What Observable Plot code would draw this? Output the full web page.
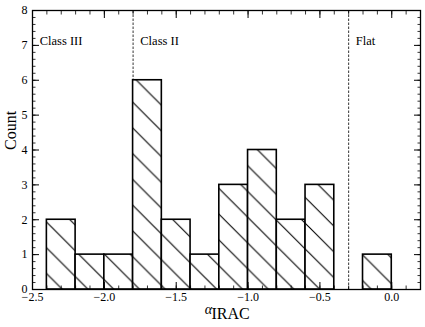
<!DOCTYPE html>
<html>
<head>
<meta charset="utf-8">
<script src="https://cdn.jsdelivr.net/npm/d3@7"></script>
<script src="https://cdn.jsdelivr.net/npm/@observablehq/plot@0.6"></script>
<style>
  html, body { margin: 0; padding: 0; background: #fff; }
</style>
</head>
<body>
<div id="chart"></div>
<script>
// Histogram bins (alpha_IRAC) and counts
const binStart = [-2.4, -2.2, -2.0, -1.8, -1.6, -1.4, -1.2, -1.0, -0.8, -0.6, -0.2];
const binEnd   = [-2.2, -2.0, -1.8, -1.6, -1.4, -1.2, -1.0, -0.8, -0.6, -0.4,  0.0];
const counts   = [2, 1, 1, 6, 2, 1, 3, 4, 2, 3, 1];

// Class boundaries and labels
const boundaries = [-1.8, -0.3];
const classLabels = ["Class III", "Class II", "Flat"];
const classLabelX = [-2.45, -1.75, -0.25];
const classLabelY = [7, 7, 7];

// Axis ticks
const xMajorTicks = [-2.5, -2.0, -1.5, -1.0, -0.5, 0.0];
const xMinorTicks = d3.range(-25, 3).map(i => i / 10);
const yMajorTicks = [0, 1, 2, 3, 4, 5, 6, 7, 8];
const yMinorTicks = d3.range(0, 41).map(i => i / 5);

const bins = binStart.map((s, i) => ({x1: s, x2: binEnd[i], count: counts[i]}));
const labels = classLabels.map((t, i) => ({text: t, x: classLabelX[i], y: classLabelY[i]}));

const fmt = d => (d < 0 ? "\u2212" : "") + Math.abs(d).toFixed(1);

const hatchDefs = () => {
  const defs = d3.create("svg:defs");
  const p = 25.75;
  const pat = defs.append("pattern")
    .attr("id", "hatch")
    .attr("patternUnits", "userSpaceOnUse")
    .attr("x", 0).attr("y", 21)
    .attr("width", p).attr("height", p);
  pat.append("rect").attr("width", p).attr("height", p).attr("fill", "white");
  pat.append("path")
    .attr("d", `M${-p},${-p}L${2*p},${2*p}M${-p},0L${p},${2*p}M0,${-p}L${2*p},${p}`)
    .attr("stroke", "black").attr("stroke-width", 1.1);
  return defs.node();
};

const chart = Plot.plot({
  width: 425,
  height: 327,
  marginLeft: 32,
  marginRight: 5,
  marginTop: 10,
  marginBottom: 38,
  style: {fontFamily: "'Liberation Serif', serif", fontSize: "12px", background: "white", color: "black"},
  x: {domain: [-2.5, 0.2]},
  y: {domain: [0, 8]},
  marks: [
    hatchDefs,
    Plot.ruleX(boundaries, {y1: 0, y2: 8, stroke: "black", strokeWidth: 0.8, strokeDasharray: "2.5,1.5"}),
    Plot.rectY(bins, {x1: "x1", x2: "x2", y: "count", fill: "url(#hatch)", stroke: "black", strokeWidth: 1.6}),
    Plot.text(labels, {x: "x", y: "y", text: "text", textAnchor: "start", lineAnchor: "bottom", fontSize: 12.5}),
    // major/minor ticks, inward, on all sides
    Plot.axisX({anchor: "bottom", ticks: xMajorTicks, tickSize: -7, text: null, label: null, strokeWidth: 1}),
    Plot.axisX({anchor: "bottom", ticks: xMinorTicks, tickSize: -3.5, text: null, label: null, strokeWidth: 0.8}),
    Plot.axisX({anchor: "top", ticks: xMajorTicks, tickSize: -7, text: null, label: null, strokeWidth: 1}),
    Plot.axisX({anchor: "top", ticks: xMinorTicks, tickSize: -3.5, text: null, label: null, strokeWidth: 0.8}),
    Plot.axisY({anchor: "left", ticks: yMajorTicks, tickSize: -7, text: null, label: null, strokeWidth: 1}),
    Plot.axisY({anchor: "left", ticks: yMinorTicks, tickSize: -3.5, text: null, label: null, strokeWidth: 0.8}),
    Plot.axisY({anchor: "right", ticks: yMajorTicks, tickSize: -7, text: null, label: null, strokeWidth: 1}),
    Plot.axisY({anchor: "right", ticks: yMinorTicks, tickSize: -3.5, text: null, label: null, strokeWidth: 0.8}),
    // tick labels
    Plot.axisX({anchor: "bottom", ticks: xMajorTicks, tickSize: 0, tickPadding: 3, tickFormat: fmt, label: null, fontSize: 12}),
    Plot.axisY({anchor: "left", ticks: yMajorTicks, tickSize: 0, tickPadding: 5, tickFormat: d => String(d), label: null, fontSize: 12}),
    Plot.frame({stroke: "black", strokeWidth: 1.3}),
    // axis titles
    Plot.text(["Count"], {text: d => d, frameAnchor: "left", rotate: -90, dx: -22, fontSize: 16}),
    Plot.text(["\u03b1"], {text: d => d, frameAnchor: "bottom", dx: -18, dy: 24, fontSize: 14, fontStyle: "italic"}),
    Plot.text(["IRAC"], {text: d => d, frameAnchor: "bottom", dx: 4, dy: 29, fontSize: 16})
  ]
});

document.getElementById("chart").appendChild(chart);
</script>
</body>
</html>
